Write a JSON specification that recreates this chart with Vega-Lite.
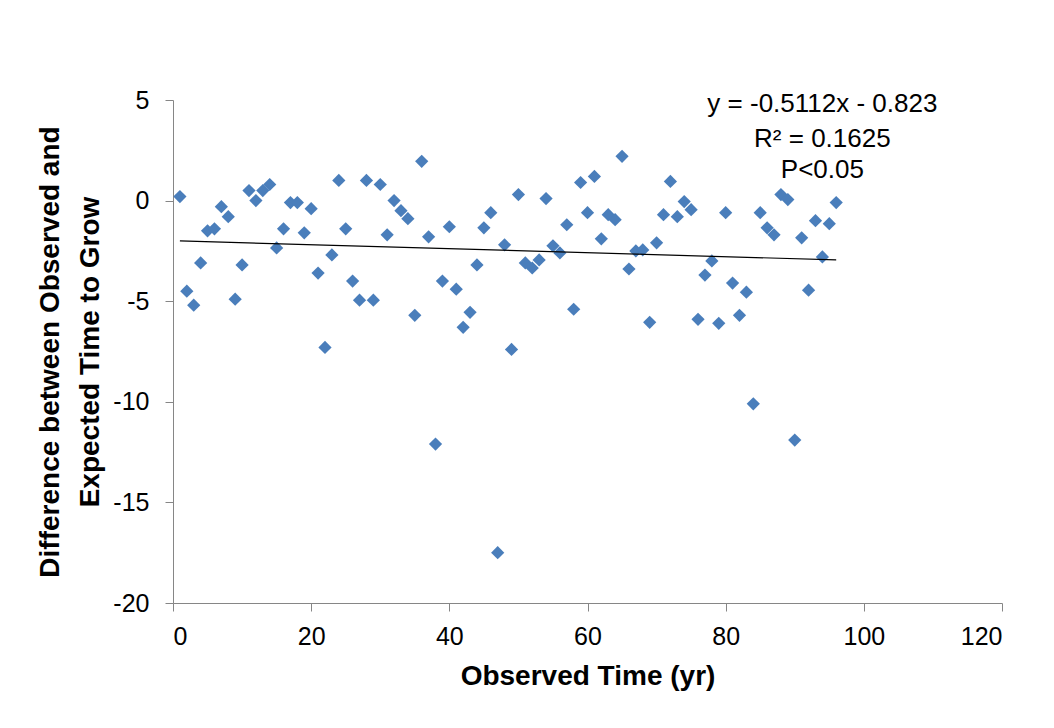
{
  "$schema": "https://vega.github.io/schema/vega-lite/v6.json",
  "width": 829,
  "height": 503,
  "autosize": {"type": "none"},
  "padding": {"left": 173, "top": 100, "right": 52, "bottom": 125},
  "background": "white",
  "config": {
    "view": {"stroke": null},
    "font": "Liberation Sans",
    "axis": {
      "grid": false,
      "domainColor": "#868686",
      "tickColor": "#868686",
      "tickSize": 8,
      "labelFont": "Liberation Sans",
      "labelFontSize": 25,
      "labelColor": "#000000",
      "titleFont": "Liberation Sans",
      "titleFontSize": 28,
      "titleFontWeight": "bold",
      "titleColor": "#000000"
    }
  },
  "datasets": {
    "pts": [
      {"t":1,"d":0.2},{"t":2,"d":-4.5},{"t":3,"d":-5.2},{"t":4,"d":-3.1},{"t":5,"d":-1.5},
      {"t":6,"d":-1.4},{"t":7,"d":-0.3},{"t":8,"d":-0.8},{"t":9,"d":-4.9},{"t":10,"d":-3.2},
      {"t":11,"d":0.5},{"t":12,"d":0.0},{"t":13,"d":0.5},{"t":14,"d":0.8},{"t":15,"d":-2.35},
      {"t":16,"d":-1.4},{"t":17,"d":-0.1},{"t":18,"d":-0.1},{"t":19,"d":-1.6},{"t":20,"d":-0.4},
      {"t":21,"d":-3.6},{"t":22,"d":-7.3},{"t":23,"d":-2.7},{"t":24,"d":1.0},{"t":25,"d":-1.4},
      {"t":26,"d":-4.0},{"t":27,"d":-4.95},{"t":28,"d":1.0},{"t":29,"d":-4.95},{"t":30,"d":0.8},
      {"t":31,"d":-1.7},{"t":32,"d":0.0},{"t":33,"d":-0.5},{"t":34,"d":-0.9},{"t":35,"d":-5.7},
      {"t":36,"d":1.95},{"t":37,"d":-1.8},{"t":38,"d":-12.1},{"t":39,"d":-4.0},{"t":40,"d":-1.3},
      {"t":41,"d":-4.4},{"t":42,"d":-6.3},{"t":43,"d":-5.55},{"t":44,"d":-3.2},{"t":45,"d":-1.35},
      {"t":46,"d":-0.6},{"t":47,"d":-17.5},{"t":48,"d":-2.2},{"t":49,"d":-7.4},{"t":50,"d":0.3},
      {"t":51,"d":-3.1},{"t":52,"d":-3.35},{"t":53,"d":-2.95},{"t":54,"d":0.1},{"t":55,"d":-2.25},
      {"t":56,"d":-2.6},{"t":57,"d":-1.2},{"t":58,"d":-5.4},{"t":59,"d":0.9},{"t":60,"d":-0.6},
      {"t":61,"d":1.2},{"t":62,"d":-1.9},{"t":63,"d":-0.7},{"t":64,"d":-0.95},{"t":65,"d":2.2},
      {"t":66,"d":-3.4},{"t":67,"d":-2.5},{"t":68,"d":-2.45},{"t":69,"d":-6.05},{"t":70,"d":-2.1},
      {"t":71,"d":-0.7},{"t":72,"d":0.95},{"t":73,"d":-0.8},{"t":74,"d":-0.05},{"t":75,"d":-0.45},
      {"t":76,"d":-5.9},{"t":77,"d":-3.7},{"t":78,"d":-3.0},{"t":79,"d":-6.1},{"t":80,"d":-0.6},
      {"t":81,"d":-4.1},{"t":82,"d":-5.7},{"t":83,"d":-4.55},{"t":84,"d":-10.1},{"t":85,"d":-0.6},
      {"t":86,"d":-1.35},{"t":87,"d":-1.7},{"t":88,"d":0.3},{"t":89,"d":0.05},{"t":90,"d":-11.9},
      {"t":91,"d":-1.85},{"t":92,"d":-4.45},{"t":93,"d":-1.0},{"t":94,"d":-2.8},{"t":95,"d":-1.15},
      {"t":96,"d":-0.1}
    ],
    "notes": [
      {"t":94,"d":4.8,"label":"y = -0.5112x - 0.823"},
      {"t":94,"d":3.05,"label":"R² = 0.1625"},
      {"t":94,"d":1.5,"label":"P<0.05"}
    ]
  },
  "layer": [
    {
      "data": {"name": "pts"},
      "mark": {"type": "point", "shape": "diamond", "filled": true, "size": 175, "color": "#4A7EBB", "opacity": 1},
      "encoding": {
        "x": {"field": "t", "type": "quantitative", "scale": {"domain": [0, 120], "nice": false, "zero": false},
              "axis": {"values": [0,20,40,60,80,100,120], "title": "Observed Time (yr)", "labelPadding": 13, "titlePadding": 13}},
        "y": {"field": "d", "type": "quantitative", "scale": {"domain": [-20, 5], "nice": false, "zero": false},
              "axis": {"values": [-20,-15,-10,-5,0,5], "labelExpr": "toString(datum.value)", "title": ["Difference between Observed and", "Expected Time to Grow"], "titleLineHeight": 40, "labelPadding": 16, "titlePadding": 8}}
      }
    },
    {
      "data": {"name": "pts"},
      "transform": [{"regression": "d", "on": "t", "extent": [1, 96]}],
      "mark": {"type": "line", "color": "#000000", "strokeWidth": 1.2},
      "encoding": {
        "x": {"field": "t", "type": "quantitative"},
        "y": {"field": "d", "type": "quantitative"}
      }
    },
    {
      "data": {"name": "notes"},
      "mark": {"type": "text", "fontSize": 26, "font": "Liberation Sans", "color": "#000000", "align": "center", "baseline": "middle"},
      "encoding": {
        "x": {"field": "t", "type": "quantitative"},
        "y": {"field": "d", "type": "quantitative"},
        "text": {"field": "label"}
      }
    }
  ]
}
